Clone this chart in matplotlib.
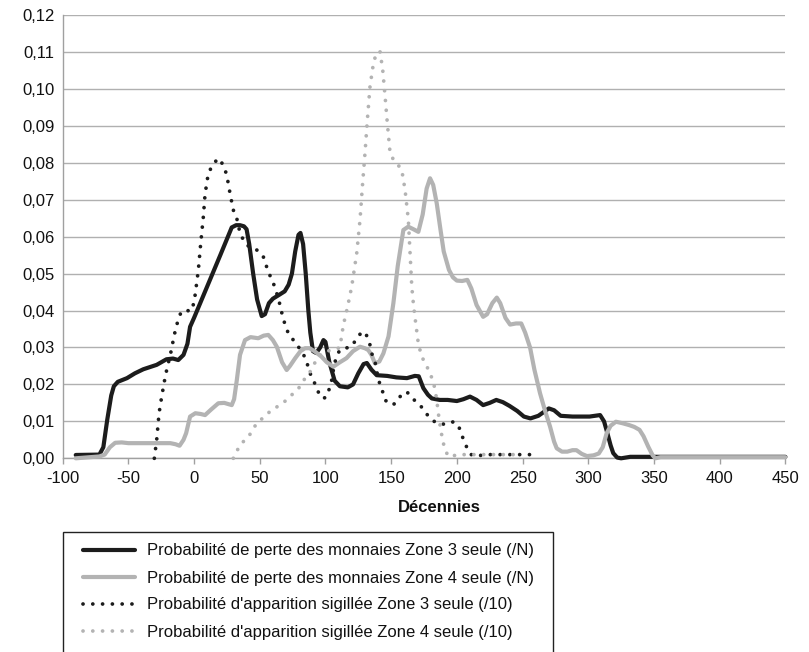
import matplotlib
matplotlib.use("Agg")
import matplotlib.pyplot as plt
from matplotlib.patches import Rectangle

plt.rcParams['font.family'] = ['Liberation Sans', 'DejaVu Sans']

# ---------------- data ----------------
x_coins3 = [-90, -72, -69, -66, -63, -61, -58, -51, -45, -38.6, -28.4, -21, -16, -12, -8, -5, -3,
            0, 10, 20, 28.7, 32, 35, 38, 40, 42, 45, 48, 51.5, 54, 57, 60, 65, 69, 72, 74.5, 77,
            79.5, 81, 83, 85, 87, 88.5, 90.5, 93, 96, 98.5, 100, 103, 107, 111, 117, 121, 125,
            129, 131.5, 135, 139, 147, 154, 162, 168, 171, 174.5, 178, 181, 187, 193, 200, 205,
            210, 215, 220, 225, 230, 235, 240, 246, 251, 256, 262, 266, 270, 274, 279, 288, 301,
            309, 312, 314, 317, 319, 322, 325, 332, 340, 450]
y_coins3 = [0.0009, 0.0010, 0.0030, 0.0105, 0.0170, 0.0195, 0.0207, 0.0217, 0.0230, 0.0241, 0.0253,
            0.0268, 0.0270, 0.0266, 0.0280, 0.0310, 0.0356,
            0.0380, 0.0465, 0.0550, 0.0625, 0.0631, 0.0631, 0.0628, 0.0620, 0.0580, 0.0500, 0.0430,
            0.0385, 0.0390, 0.0420, 0.0432, 0.0443, 0.0452, 0.0470, 0.0500, 0.0560,
            0.0605, 0.0610, 0.0580, 0.0500, 0.0400, 0.0340, 0.0290, 0.0285, 0.0300, 0.0320, 0.0315,
            0.0260, 0.0210, 0.0195, 0.0192, 0.0200, 0.0230,
            0.0255, 0.0258, 0.0240, 0.0225, 0.0223, 0.0219, 0.0217, 0.0223, 0.0222, 0.0190, 0.0172,
            0.0162, 0.0158, 0.0158, 0.0155, 0.0160,
            0.0167, 0.0158, 0.0144, 0.0150, 0.0158, 0.0152, 0.0142, 0.0128, 0.0113, 0.0108, 0.0115,
            0.0125, 0.0135, 0.0130, 0.0115, 0.0113, 0.0113,
            0.0117, 0.0100, 0.0075, 0.0035, 0.0014, 0.0002, 0.0000, 0.0004, 0.0004, 0.0004]

x_coins4 = [-90, -72, -68, -64, -60, -55, -50, -30, -18, -14, -11, -8, -6, -3, 1, 5, 8.4, 13, 18.5,
            23, 28.7, 30.5, 32.5, 35, 38.8, 43, 48.9, 53, 56.5, 60, 63, 67, 70.5, 73, 77, 81, 84.5,
            88, 92, 97, 101, 106, 111, 116, 121, 126.3, 130, 132.6, 135, 137.7, 141, 144.1, 148,
            151.7, 155, 159.3, 163, 167, 170.7, 174, 177, 179.6, 182, 184.7, 187.5, 190, 194, 197,
            200, 204, 208, 211, 215, 220, 223, 227, 230.4, 233, 237, 240.5, 245, 249, 252, 255.7,
            259, 263.3, 267, 270.9, 274, 276, 280, 284, 288, 291, 295, 299, 304, 308, 311, 314,
            317, 321, 326, 331, 335, 339, 342, 345.7, 349, 351, 355, 450]
y_coins4 = [0.0000, 0.0005, 0.0010, 0.0030, 0.0042, 0.0043, 0.0041, 0.0041, 0.0041, 0.0038, 0.0034,
            0.0050, 0.0068, 0.0113, 0.0122, 0.0120, 0.0117, 0.0132, 0.0149,
            0.0150, 0.0144, 0.0160, 0.0210, 0.0280, 0.0320, 0.0328, 0.0325, 0.0332, 0.0334, 0.0320,
            0.0302, 0.0260, 0.0239, 0.0250, 0.0271, 0.0290, 0.0298,
            0.0298, 0.0289, 0.0275, 0.0260, 0.0248, 0.0260, 0.0271, 0.0290, 0.0302, 0.0298, 0.0293,
            0.0280, 0.0257, 0.0262, 0.0284, 0.0330,
            0.0420, 0.0520, 0.0618, 0.0627, 0.0620, 0.0613, 0.0660, 0.0730, 0.0758, 0.0740, 0.0690,
            0.0620, 0.0560, 0.0510, 0.0490,
            0.0481, 0.0480, 0.0483, 0.0460, 0.0415, 0.0383, 0.0390, 0.0420, 0.0435, 0.0420, 0.0380,
            0.0362, 0.0365, 0.0365, 0.0340, 0.0300,
            0.0240, 0.0176, 0.0130, 0.0086, 0.0045, 0.0027, 0.0018, 0.0018, 0.0022, 0.0022, 0.0012,
            0.0006, 0.0008, 0.0013, 0.0030, 0.0068,
            0.0088, 0.0099, 0.0095, 0.0090, 0.0085, 0.0077, 0.0060, 0.0031, 0.0008, 0.0000, 0.0003,
            0.0003]

x_sig3 = [-30.2, -28.4, -26.6, -24.6, -22.1, -20.8, -17.5, -15, -13.2, -10, -6, -3, 0, 1.5, 3.3, 5.1,
          7.1, 8.4, 10.9, 14.7, 18.5, 22.3, 24.9, 27.4, 29.9, 32.5, 35, 38.8, 43, 47.7, 50, 52.7,
          56.5, 60.3, 64.2, 66.7, 69.3, 71.8, 75.6, 79.4, 83.2, 85.8, 88.3, 90.8, 93.4, 95.9, 98.5,
          101, 103, 104.8, 106.5, 108.6, 111, 113.6, 118.7, 121, 123.8, 127.6, 129.5, 131.4, 133.9,
          135.2, 137.7, 140.3, 142.9, 145, 147.9, 150.5, 153, 156.8, 159.5, 161.9, 164.5, 166.9,
          170, 172, 175.8, 179.6, 184.7, 191, 195, 197.3, 199.5, 202, 204.5, 207, 210, 213, 216.4,
          220, 257]
y_sig3 = [0.0000, 0.0050, 0.0122, 0.0167, 0.0217, 0.0239, 0.0289, 0.0334, 0.0361, 0.0395, 0.0402,
          0.0397, 0.0420, 0.0460, 0.0510, 0.0582,
          0.0654, 0.0715, 0.0772, 0.0797, 0.0812, 0.0794, 0.0767, 0.0717, 0.0672, 0.0650, 0.0610,
          0.0582, 0.0570, 0.0564, 0.0558, 0.0546,
          0.0505, 0.0475, 0.0433, 0.0395, 0.0361, 0.0338, 0.0320, 0.0302, 0.0282, 0.0260, 0.0230,
          0.0212, 0.0189, 0.0169, 0.0162,
          0.0167, 0.0189, 0.0212, 0.0250, 0.0278, 0.0293, 0.0298, 0.0300, 0.0310, 0.0322, 0.0343,
          0.0341, 0.0332, 0.0307,
          0.0284, 0.0262, 0.0212, 0.0189, 0.0160, 0.0148, 0.0145, 0.0148, 0.0167, 0.0177, 0.0180,
          0.0170, 0.0160,
          0.0150, 0.0144, 0.0126, 0.0108, 0.0095, 0.0092, 0.0095, 0.0099, 0.0095, 0.0081, 0.0056,
          0.0034, 0.0012, 0.0006, 0.0006,
          0.0010, 0.0010]

x_sig4 = [29.9, 33.7, 37.5, 42.6, 47.7, 52.7, 59.1, 65.4, 70.5, 75.6, 80.7, 84.5, 88.3, 90.8, 94,
          97.2, 101, 104.8, 108.6, 111, 113.6, 116.2, 118, 120, 123.8, 126.3, 128.1, 130.1, 131.9,
          133.9, 136.5, 139, 141.6, 143.6, 145.4, 147.1, 149.2, 151.5, 154.3, 158.1, 160.6, 163.1,
          164.4, 165.7, 167, 168.2, 170.7, 173.3, 176.6, 179.6, 182.1, 183.4, 184.7, 185.9, 187.2,
          188.5, 189.7, 191.5, 193.5, 197, 200, 250]
y_sig4 = [0.0000, 0.0027, 0.0045, 0.0065, 0.0095, 0.0110, 0.0131, 0.0144, 0.0158, 0.0176, 0.0194,
          0.0217, 0.0234, 0.0252, 0.0270,
          0.0284, 0.0290, 0.0293, 0.0296, 0.0300, 0.0360, 0.0400, 0.0430, 0.0465, 0.0555, 0.0645,
          0.0735, 0.0826, 0.0916,
          0.1006, 0.1069, 0.1100, 0.1100, 0.1051, 0.0979, 0.0907, 0.0826, 0.0810, 0.0799, 0.0780,
          0.0726, 0.0645,
          0.0555, 0.0465, 0.0415, 0.0380, 0.0310, 0.0275, 0.0253, 0.0230, 0.0207, 0.0185, 0.0158,
          0.0122, 0.0090,
          0.0063, 0.0041, 0.0020, 0.0005, 0.0006, 0.0010, 0.0010]

series_labels = [
    "Probabilité de perte des monnaies Zone 3 seule (/N)",
    "Probabilité de perte des monnaies Zone 4 seule (/N)",
    "Probabilité d'apparition sigillée Zone 3 seule (/10)",
    "Probabilité d'apparition sigillée Zone 4 seule (/10)",
]
x_ticks = [-100, -50, 0, 50, 100, 150, 200, 250, 300, 350, 400, 450]
x_tick_labels = ["-100", "-50", "0", "50", "100", "150", "200", "250", "300", "350", "400", "450"]
y_ticks = [0.00, 0.01, 0.02, 0.03, 0.04, 0.05, 0.06, 0.07, 0.08, 0.09, 0.10, 0.11, 0.12]
y_tick_labels = ["0,00", "0,01", "0,02", "0,03", "0,04", "0,05", "0,06", "0,07", "0,08",
                 "0,09", "0,10", "0,11", "0,12"]
x_title = "Décennies"

# ---------------- figure ----------------
W, H = 809, 652
fig = plt.figure(figsize=(W / 100, H / 100), dpi=100)
L, R, T, B = 62.6, 785.4, 15.0, 458.3
ax = fig.add_axes([L / W, 1 - B / H, (R - L) / W, (B - T) / H])

FS = 12
dark = '#1c1c1c'
light = '#b3b3b3'

ax.plot(x_coins3, y_coins3, color=dark, lw=3.0, solid_capstyle='round',
        solid_joinstyle='round', clip_on=False, zorder=3, label=series_labels[0])
ax.plot(x_coins4, y_coins4, color=light, lw=3.0, solid_capstyle='round',
        solid_joinstyle='round', clip_on=False, zorder=3, label=series_labels[1])
ax.plot(x_sig3, y_sig3, color=dark, lw=2.7, linestyle=(0, (0.01, 2.6)),
        dash_capstyle='round', clip_on=False, zorder=4, label=series_labels[2])
ax.plot(x_sig4, y_sig4, color=light, lw=2.7, linestyle=(0, (0.01, 2.6)),
        dash_capstyle='round', clip_on=False, zorder=4, label=series_labels[3])

ax.set_xlim(-100, 450)
ax.set_ylim(0, 0.12)
ax.set_xticks(x_ticks)
ax.set_xticklabels(x_tick_labels)
ax.set_yticks(y_ticks)
ax.set_yticklabels(y_tick_labels)

ax.grid(axis='y', color='#b0b0b0', lw=1.0, zorder=0)
ax.set_axisbelow(True)
for s in ('top', 'right'):
    ax.spines[s].set_visible(False)
ax.spines['left'].set_color('#a0a0a0')
ax.spines['bottom'].set_color('#a0a0a0')
ax.spines['left'].set_linewidth(1.0)
ax.spines['bottom'].set_linewidth(1.0)
ax.tick_params(axis='x', direction='out', length=4, width=1.0, color='#a0a0a0',
               labelsize=FS, pad=5, labelcolor='#111111')
ax.tick_params(axis='y', length=0, labelsize=FS, pad=6, labelcolor='#111111')

fig.text(439.5 / W, 1 - 508 / H, x_title, ha='center', va='center',
         fontsize=FS, fontweight='bold', color='#111111')

# legend frame: runs off the bottom of the figure as in the reference
fig.patches.append(Rectangle((62.7 / W, -0.05), (553.3 - 62.7) / W, (1 - 531.7 / H) + 0.05,
                             transform=fig.transFigure, facecolor='white',
                             edgecolor='#222222', lw=1.0, zorder=-1))

leg = ax.legend(loc='upper left', bbox_to_anchor=(83.3 / W, 1 - 543.5 / H),
                bbox_transform=fig.transFigure, borderaxespad=0, borderpad=0,
                fontsize=FS, frameon=False,
                handlelength=3.1, handletextpad=0.74, labelspacing=0.72)
for t in leg.get_texts():
    t.set_color('#111111')

fig.savefig('out.png', dpi=100)
